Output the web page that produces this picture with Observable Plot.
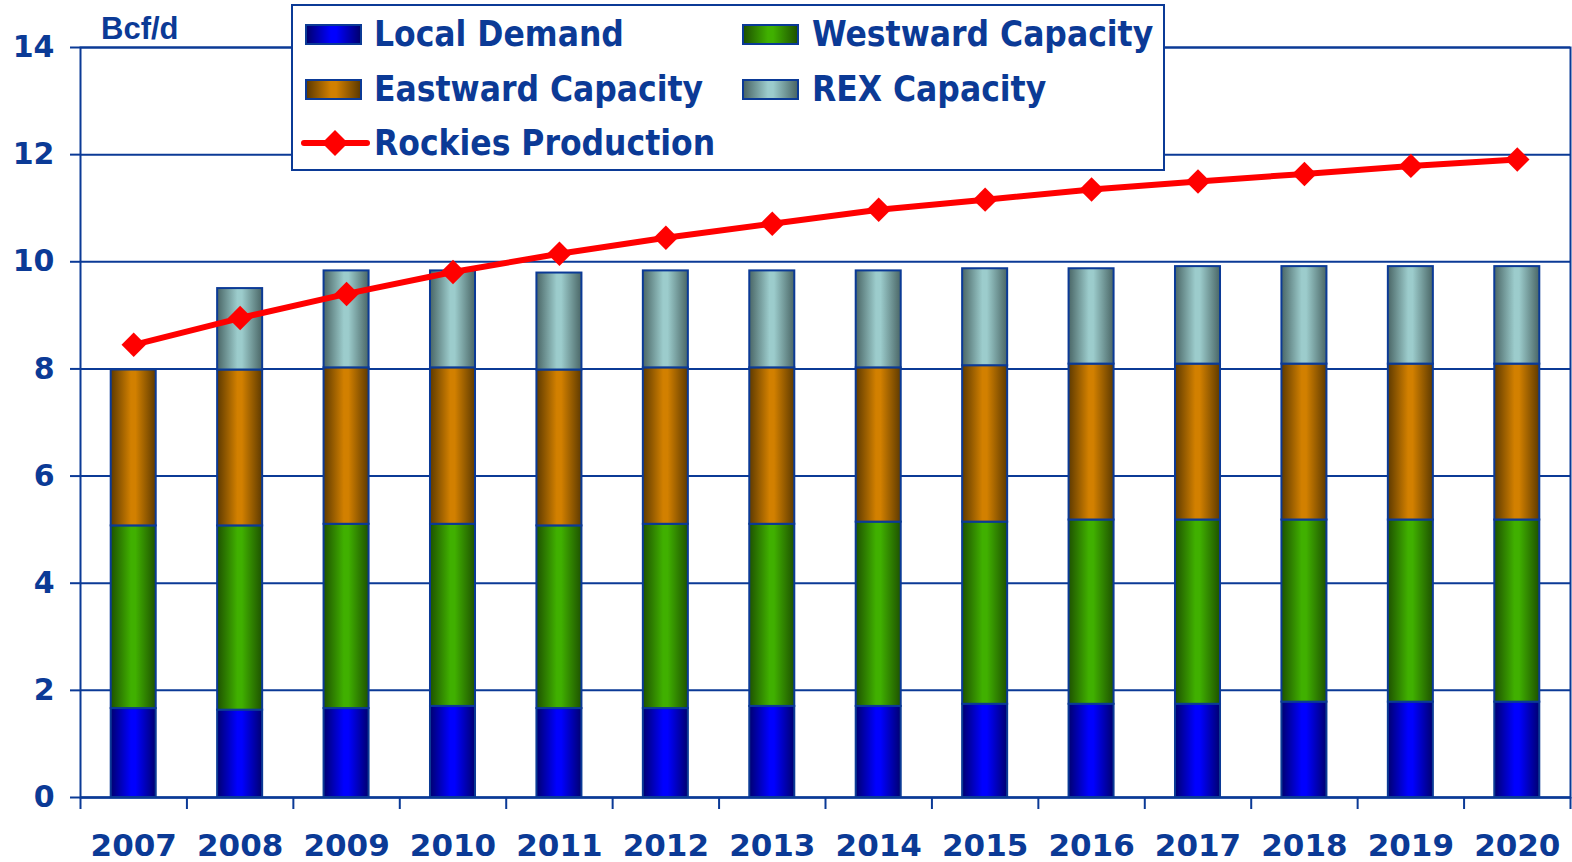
<!DOCTYPE html>
<html>
<head>
<meta charset="utf-8">
<script src="https://cdn.jsdelivr.net/npm/d3@7"></script>
<script src="https://cdn.jsdelivr.net/npm/@observablehq/plot@0.6"></script>
<style>
  html, body { margin: 0; padding: 0; background: #fff; }
  #wrap { position: relative; width: 1572px; height: 862px; overflow: hidden; }
  #unit { position: absolute; left: 101px; top: 11px; font: bold 31px "Liberation Sans", Arial, sans-serif; color: #0B3A96; }
  #legend { position: absolute; left: 291px; top: 4px; width: 870px; height: 163px; border: 2px solid #0B3A96; background: #fff; }
  .sw { position: absolute; width: 53px; height: 17px; border: 2px solid #0B3A96; }
  .lt { position: absolute; height: 40px; line-height: 40px; font-family: "DejaVu Sans Condensed", "DejaVu Sans", sans-serif; font-stretch: condensed; font-weight: bold; font-size: 35px; color: #0B3A96; white-space: nowrap; }
</style>
</head>
<body>
<div id="wrap"></div>
<script>
const years = ["2007","2008","2009","2010","2011","2012","2013","2014","2015","2016","2017","2018","2019","2020"];
const seriesNames = ["Local Demand", "Westward Capacity", "Eastward Capacity", "REX Capacity"];
const localDemand = [1.66,1.63,1.66,1.70,1.66,1.66,1.70,1.70,1.74,1.74,1.74,1.78,1.78,1.78];
const westward    = [3.41,3.44,3.44,3.40,3.41,3.44,3.40,3.44,3.40,3.44,3.44,3.40,3.40,3.40];
const eastward    = [2.91,2.91,2.92,2.92,2.91,2.92,2.92,2.88,2.92,2.91,2.91,2.91,2.91,2.91];
const rex         = [0.00,1.52,1.81,1.81,1.81,1.81,1.81,1.81,1.81,1.78,1.82,1.82,1.82,1.82];
const production  = [8.45,8.95,9.40,9.81,10.15,10.45,10.71,10.97,11.16,11.35,11.50,11.64,11.79,11.91];
const yTicks = [0,2,4,6,8,10,12,14];

const gradients = [
  {id: "gLocal", dark: "#000070", light: "#0000FF"},
  {id: "gWest",  dark: "#1E5200", light: "#40B000"},
  {id: "gEast",  dark: "#5E3A00", light: "#D28000"},
  {id: "gRex",   dark: "#4A6666", light: "#9CCCCC"}
];

const valuesBySeries = [localDemand, westward, eastward, rex];
const stacked = [];
years.forEach((y, i) => {
  seriesNames.forEach((s, j) => {
    const v = valuesBySeries[j][i];
    if (v > 0) stacked.push({year: y, series: s, value: v});
  });
});
const prod = years.map((y, i) => ({year: y, value: production[i]}));

const blue = "#0B3A96";
const W = 1572, H = 862, mL = 80, mR = 2, mT = 47, mB = 65;
const step = (W - mL - mR) / years.length;
const yPer = (H - mT - mB) / 14;

const chart = Plot.plot({
  width: W, height: H,
  marginLeft: mL, marginRight: mR, marginTop: mT, marginBottom: mB,
  style: {fontFamily: "'DejaVu Sans', Verdana, sans-serif", fontWeight: "bold", color: blue, background: "transparent", overflow: "visible"},
  x: {domain: years, paddingInner: 0.577, paddingOuter: 0.2885, round: false},
  y: {domain: [0, 14]},
  color: {domain: seriesNames, range: gradients.map(g => `url(#${g.id})`)},
  marks: [
    Plot.gridY(yTicks, {stroke: blue, strokeOpacity: 1, strokeWidth: 2}),
    Plot.axisY(yTicks, {tickSize: 10, tickPadding: 16, fontSize: 30, stroke: blue, strokeWidth: 2, label: null, tickFormat: d3.format("d")}),
    Plot.axisX({tickSize: 0, tickPadding: 36, fontSize: 31, label: null}),
    Plot.barY(stacked, {x: "year", y: "value", fill: "series", stroke: blue, strokeWidth: 2}),
    Plot.ruleX(years, {x: d => d, dx: -step / 2, y1: 0, y2: -12 / yPer, stroke: blue, strokeWidth: 2}),
    Plot.ruleX(years.slice(-1), {x: d => d, dx: step / 2, y1: 0, y2: -12 / yPer, stroke: blue, strokeWidth: 2}),
    Plot.ruleY([0], {stroke: blue, strokeWidth: 2}),
    Plot.frame({stroke: blue, strokeWidth: 2}),
    Plot.line(prod, {x: "year", y: "value", stroke: "#FF0000", strokeWidth: 6}),
    Plot.dot(prod, {x: "year", y: "value", symbol: "diamond2", r: 11, fill: "#FF0000", stroke: "none"})
  ]
});

const defs = `<defs>${gradients.map(g => `<linearGradient id="${g.id}" x1="0" x2="1" y1="0" y2="0">
  <stop offset="0" stop-color="${g.dark}"/><stop offset="0.45" stop-color="${g.light}"/><stop offset="0.55" stop-color="${g.light}"/><stop offset="1" stop-color="${g.dark}"/></linearGradient>`).join("")}</defs>`;
chart.insertAdjacentHTML("afterbegin", defs);

const wrap = document.getElementById("wrap");
wrap.appendChild(chart);

const unit = document.createElement("div");
unit.id = "unit"; unit.textContent = "Bcf/d";
wrap.appendChild(unit);

const legend = document.createElement("div");
legend.id = "legend";
const items = [
  {name: seriesNames[0], g: gradients[0], sx: 12, tx: 81, cy: 28},
  {name: seriesNames[1], g: gradients[1], sx: 449, tx: 519, cy: 28},
  {name: seriesNames[2], g: gradients[2], sx: 12, tx: 81, cy: 83},
  {name: seriesNames[3], g: gradients[3], sx: 449, tx: 519, cy: 83}
];
let html = "";
for (const it of items) {
  html += `<div class="sw" style="left:${it.sx}px;top:${it.cy - 10}px;background:linear-gradient(to right, ${it.g.dark}, ${it.g.light} 45%, ${it.g.light} 55%, ${it.g.dark});"></div>`;
  html += `<div class="lt" style="left:${it.tx}px;top:${it.cy - 20}px;">${it.name}</div>`;
}
html += `<svg style="position:absolute;left:8px;top:${137 - 15}px" width="70" height="30"><line x1="3" x2="66" y1="15" y2="15" stroke="#FF0000" stroke-width="6" stroke-linecap="round"/><path d="M34,2 L47,15 L34,28 L21,15 Z" fill="#FF0000"/></svg>`;
html += `<div class="lt" style="left:81px;top:${137 - 20}px;">Rockies Production</div>`;
legend.innerHTML = html;
wrap.appendChild(legend);
</script>
</body>
</html>
